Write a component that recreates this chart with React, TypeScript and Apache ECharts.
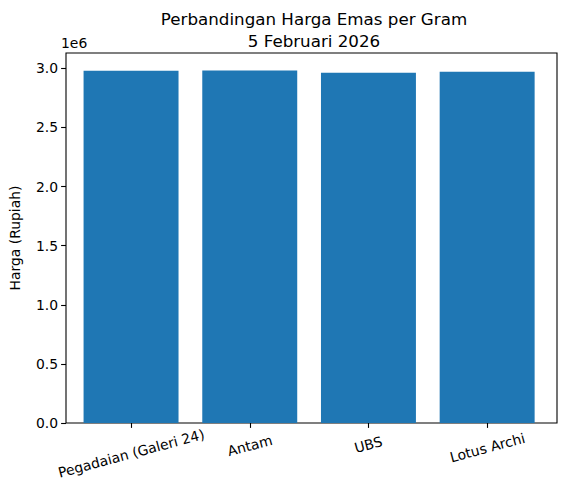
import React, { useEffect, useRef } from "react";
import * as echarts from "echarts";

const categories = ["Pegadaian (Galeri 24)", "Antam", "UBS", "Lotus Archi"];
const prices = [2978000, 2980000, 2961000, 2970000];
const yTicks = [0, 0.5, 1.0, 1.5, 2.0, 2.5, 3.0];
const labelKeys = ["a", "b", "c", "d"];

const FONT = "DejaVu Sans";

export default function App() {
  const ref = useRef<HTMLDivElement>(null);
  useEffect(() => {
    if (!ref.current) return;
    const chart = echarts.init(ref.current, null, { renderer: "svg" });
    const yMax = Math.max(...prices) * 1.05;
    const lbl = { fontFamily: FONT, fontSize: 13.9, color: "#000" };
    chart.setOption({
      animation: false,
      backgroundColor: "#fff",
      textStyle: { fontFamily: FONT },
      title: {
        text: "Perbandingan Harga Emas per Gram\n5 Februari 2026",
        left: 309,
        top: 3,
        textAlign: "center",
        textStyle: { fontFamily: FONT, fontSize: 16.7, fontWeight: "normal", color: "#000", lineHeight: 22 },
      },
      graphic: [
        { type: "text", left: 61, top: 36, style: { text: "1e6", fontFamily: FONT, fontSize: 13.9, fill: "#000" } },
      ],
      grid: [
        { left: 61, top: 53, width: 496, height: 370, show: true, borderColor: "#000", borderWidth: 1.1, backgroundColor: "transparent" },
        { left: 71.7, top: 53, width: 474.8, height: 370 },
      ],
      xAxis: [
        { gridIndex: 0, type: "value", min: 0, max: 1, show: false },
        {
          gridIndex: 1,
          type: "category",
          data: categories,
          axisLine: { show: false },
          axisTick: { show: true, alignWithLabel: true, length: 4.9, lineStyle: { color: "#000", width: 1.1 } },
          axisLabel: {
            rotate: 15,
            margin: 20,
            align: "center",
            verticalAlign: "middle",
            color: "#000",
            fontFamily: FONT,
            fontSize: 13.9,
            formatter: (v: string) => `{${labelKeys[categories.indexOf(v)]}|${v}}`,
            rich: {
              a: { ...lbl, padding: [20, 5, 0, 0] },
              b: { ...lbl, padding: [5, 1, 0, 0] },
              c: { ...lbl, padding: [3, 1, 0, 0] },
              d: { ...lbl, padding: [9, 2, 0, 0] },
            },
          },
        },
      ],
      yAxis: [
        {
          gridIndex: 0,
          type: "value",
          min: 0,
          max: yMax,
          interval: 500000,
          name: "Harga (Rupiah)",
          nameLocation: "middle",
          nameRotate: 90,
          nameGap: 44,
          nameTextStyle: { fontFamily: FONT, fontSize: 13.9, color: "#000" },
          axisLine: { show: false },
          axisTick: { show: true, length: 4.9, lineStyle: { color: "#000", width: 1.1 } },
          splitLine: { show: false },
          axisLabel: {
            color: "#000",
            fontFamily: FONT,
            fontSize: 13.9,
            margin: 8,
            showMaxLabel: false,
            formatter: (v: number) => {
              const t = v / 1e6;
              return yTicks.some((k) => Math.abs(k - t) < 1e-9) ? t.toFixed(1) : "";
            },
          },
        },
        { gridIndex: 1, type: "value", min: 0, max: yMax, show: false },
      ],
      series: [
        {
          type: "bar",
          xAxisIndex: 1,
          yAxisIndex: 1,
          data: prices,
          barWidth: "80%",
          itemStyle: { color: "#1f77b4" },
        },
      ],
    });
    return () => chart.dispose();
  }, []);
  return <div ref={ref} style={{ position: "absolute", left: 0, top: 0, width: 567, height: 495 }} />;
}
